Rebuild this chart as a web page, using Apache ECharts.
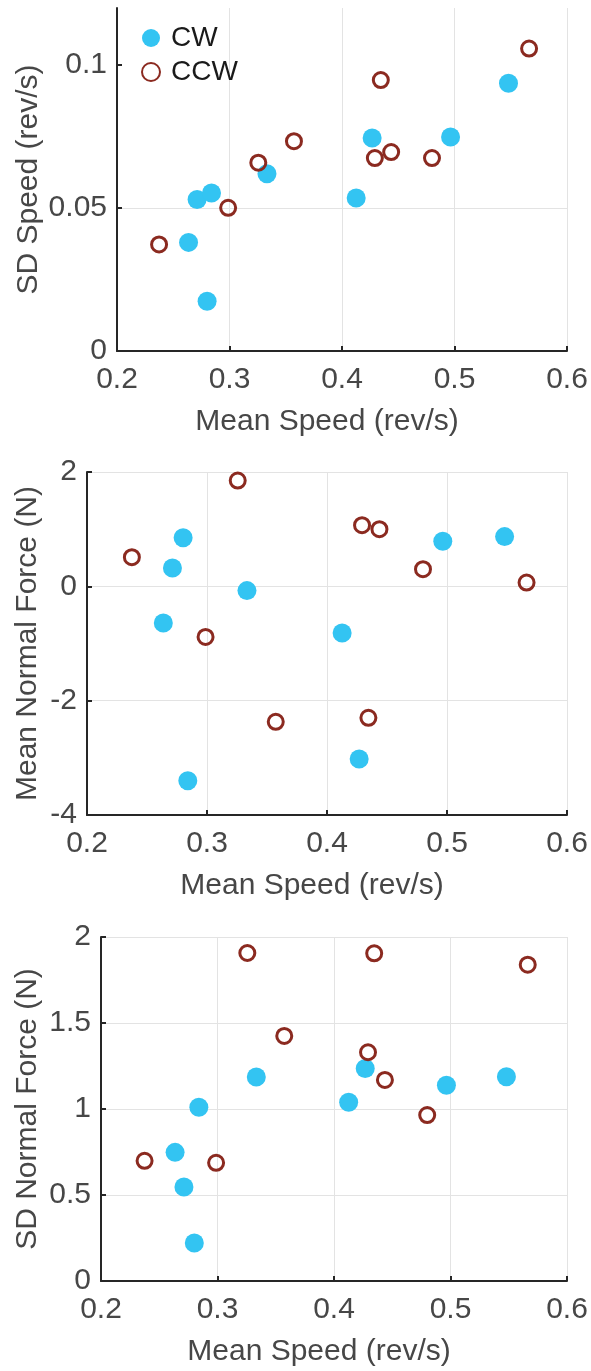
<html>
  <head>
    <meta charset="utf-8">
    <style>
      html, body { margin: 0; padding: 0; background: #fff; }
      #main { width: 591px; height: 1371px; }
    </style>
  </head>
  <body>
    <div id="main"></div>
  </body>
  <script src="https://cdn.jsdelivr.net/npm/echarts@6/dist/echarts.min.js"></script>
  <script>

// mean speed (rev/s) for each trial
var cwSpeed  = [0.2636, 0.2712, 0.2801, 0.2840, 0.3333, 0.4126, 0.4268, 0.4965, 0.5480];
var ccwSpeed = [0.2374, 0.2988, 0.3256, 0.3573, 0.4292, 0.4345, 0.4437, 0.4800, 0.5663];

// SD speed (rev/s)
var cwSdSpeed  = [0.0380, 0.0530, 0.0174, 0.0553, 0.0620, 0.0535, 0.0745, 0.0749, 0.0937];
var ccwSdSpeed = [0.0373, 0.0501, 0.0659, 0.0734, 0.0675, 0.0948, 0.0696, 0.0675, 0.1058];

// mean normal force (N)
var cwMeanForce  = [-0.64, 0.32, 0.85, -3.40, -0.075, -0.815, -3.02, 0.79, 0.87];
var ccwMeanForce = [0.51, -0.885, 1.85, -2.37, 1.07, -2.30, 1.00, 0.30, 0.065];

// SD normal force (N)
var cwSdForce  = [0.748, 0.546, 0.221, 1.01, 1.186, 1.039, 1.235, 1.138, 1.188];
var ccwSdForce = [0.699, 0.687, 1.907, 1.425, 1.330, 1.905, 1.169, 0.965, 1.839];

// panel 1 stops at 0.12 but has no tick there
var yTicks1 = [0, 0.05, 0.1];

var FONT = "'Liberation Sans', Arial, sans-serif";
var AXIS_COLOR = '#262626';
var LABEL_COLOR = '#474747';
var GRID_COLOR = '#e3e3e3';
var CW_COLOR = '#33c4f2';
var CCW_COLOR = '#8b2a20';

function pairs(xs, ys) {
  var out = [];
  for (var i = 0; i < xs.length; i++) {
    out.push([xs[i], ys[i]]);
  }
  return out;
}

function xAxisFor(idx) {
  return {
    type: 'value',
    gridIndex: idx,
    min: 0.2,
    max: 0.6,
    interval: 0.1,
    name: 'Mean Speed (rev/s)',
    nameLocation: 'middle',
    nameGap: 56,
    nameMoveOverlap: false,
    nameTextStyle: { fontFamily: FONT, fontSize: 30, color: LABEL_COLOR, padding: [0, 30, 0, 0] },
    axisLine: { show: true, onZero: false, lineStyle: { color: AXIS_COLOR, width: 2 } },
    axisTick: { show: true, inside: true, length: 5, lineStyle: { color: AXIS_COLOR, width: 2 } },
    axisLabel: { fontFamily: FONT, fontSize: 30, color: LABEL_COLOR, margin: 14 },
    splitLine: { show: true, lineStyle: { color: GRID_COLOR, width: 1 } }
  };
}

function yAxisFor(idx, name, min, max, interval, gap, ticks) {
  var ax = {
    type: 'value',
    gridIndex: idx,
    min: min,
    max: max,
    interval: interval,
    name: name,
    nameLocation: 'middle',
    nameGap: gap,
    nameMoveOverlap: false,
    nameTextStyle: { fontFamily: FONT, fontSize: 30, color: LABEL_COLOR },
    axisLine: { show: true, onZero: false, lineStyle: { color: AXIS_COLOR, width: 2 } },
    axisTick: { show: true, inside: true, length: 5, lineStyle: { color: AXIS_COLOR, width: 2 } },
    axisLabel: { fontFamily: FONT, fontSize: 30, color: LABEL_COLOR, margin: 10 },
    splitLine: { show: true, lineStyle: { color: GRID_COLOR, width: 1 } }
  };
  if (ticks) {
    ax.axisTick.customValues = ticks;
    ax.axisLabel.customValues = ticks;
    ax.splitLine.showMaxLine = false;
  }
  return ax;
}

function cwSeries(idx, ys) {
  return {
    name: 'CW',
    type: 'scatter',
    xAxisIndex: idx,
    yAxisIndex: idx,
    symbol: 'circle',
    symbolSize: 19,
    itemStyle: { color: CW_COLOR, opacity: 1 },
    emphasis: { disabled: true },
    data: pairs(cwSpeed, ys)
  };
}

function ccwSeries(idx, ys) {
  return {
    name: 'CCW',
    type: 'scatter',
    xAxisIndex: idx,
    yAxisIndex: idx,
    symbol: 'circle',
    symbolSize: 15,
    itemStyle: { color: 'rgba(0,0,0,0)', borderColor: CCW_COLOR, borderWidth: 3, opacity: 1 },
    emphasis: { disabled: true },
    data: pairs(ccwSpeed, ys)
  };
}

var option = {
  animation: false,
  backgroundColor: '#fff',
  legend: {
    orient: 'vertical',
    left: 136,
    top: 19,
    itemWidth: 18,
    itemHeight: 18,
    itemGap: 6,
    textStyle: { fontFamily: FONT, fontSize: 28, color: '#1a1a1a', padding: [0, 0, 0, 6] },
    data: ['CW', 'CCW']
  },
  grid: [
    { left: 117, top: 8, width: 450, height: 343, outerBoundsMode: 'none' },
    { left: 87, top: 472, width: 480, height: 343, outerBoundsMode: 'none' },
    { left: 101, top: 937, width: 466, height: 344, outerBoundsMode: 'none' }
  ],
  xAxis: [xAxisFor(0), xAxisFor(1), xAxisFor(2)],
  yAxis: [
    yAxisFor(0, 'SD Speed (rev/s)', 0, 0.12, 0.05, 73, yTicks1),
    yAxisFor(1, 'Mean Normal Force (N)', -4, 2, 2, 44, null),
    yAxisFor(2, 'SD Normal Force (N)', 0, 2, 0.5, 58, null)
  ],
  series: [
    cwSeries(0, cwSdSpeed), ccwSeries(0, ccwSdSpeed),
    cwSeries(1, cwMeanForce), ccwSeries(1, ccwMeanForce),
    cwSeries(2, cwSdForce), ccwSeries(2, ccwSdForce)
  ]
};

var chart = echarts.init(document.getElementById('main'));
chart.setOption(option);
  </script>
</html>
